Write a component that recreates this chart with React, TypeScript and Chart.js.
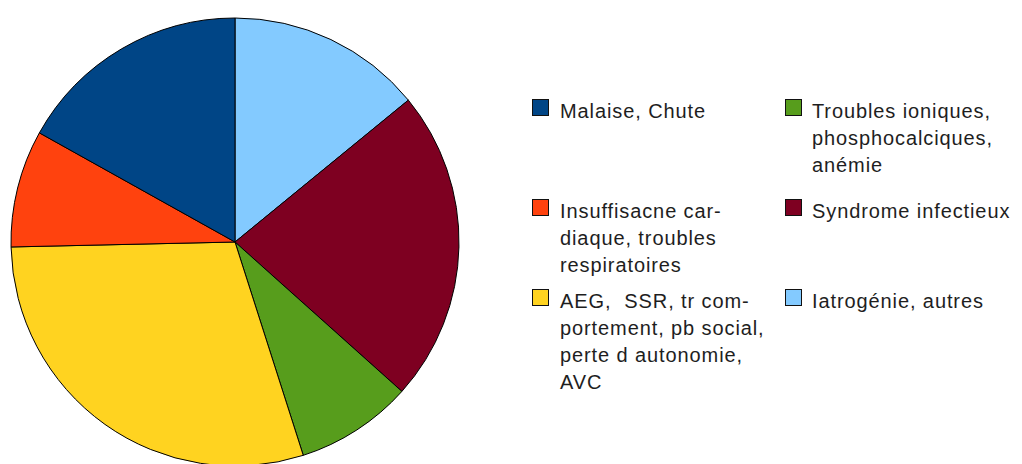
import React, { useEffect, useRef } from "react";
import { Chart, registerables } from "chart.js";

Chart.register(...registerables);

// Categories in legend (column-major) order, which is also the counter-clockwise order of the pie
const categories = [
  "Malaise, Chute",
  "Insuffisacne cardiaque, troubles respiratoires",
  "AEG, SSR, tr comportement, pb social, perte d autonomie, AVC",
  "Troubles ioniques, phosphocalciques, anémie",
  "Syndrome infectieux",
  "Iatrogénie, autres",
];
const values = [12, 6, 21, 6, 16, 10];
const colors = ["#004586", "#ff420e", "#ffd320", "#579d1c", "#7e0021", "#83caff"];
const legendLines = [
  ["Malaise, Chute"],
  ["Insuffisacne car-", "diaque, troubles", "respiratoires"],
  ["AEG,  SSR, tr com-", "portement, pb social,", "perte d autonomie,", "AVC"],
  ["Troubles ioniques,", "phosphocalciques,", "anémie"],
  ["Syndrome infectieux"],
  ["Iatrogénie, autres"],
];

const FONT = '"Liberation Sans", Arial, sans-serif';
const colX = [{ box: 532, text: 560 }, { box: 785, text: 812 }];
const rowBaseline = [118, 218, 308];

export default function App() {
  const ref = useRef<HTMLCanvasElement | null>(null);

  useEffect(() => {
    if (!ref.current) return;
    // Chart.js draws clockwise; the reference is counter-clockwise from 12 o'clock
    const labels = [...categories].reverse();
    const data = [...values].reverse();
    const bg = [...colors].reverse();
    const chart = new Chart(ref.current, {
      type: "pie",
      data: {
        labels,
        datasets: [
          {
            data,
            backgroundColor: bg,
            borderColor: "#000000",
            borderWidth: 1,
          },
        ],
      },
      options: {
        animation: false,
        responsive: false,
        maintainAspectRatio: false,
        radius: 224,
        layout: { padding: 0 },
        plugins: {
          legend: { display: false },
          tooltip: { enabled: false },
          title: { display: false },
        },
      },
    });
    return () => chart.destroy();
  }, []);

  return (
    <div
      style={{
        position: "fixed",
        left: 0,
        top: 0,
        width: 1022,
        height: 464,
        overflow: "hidden",
        background: "#ffffff",
      }}
    >
      <canvas
        ref={ref}
        width={460}
        height={460}
        style={{ position: "absolute", left: 5, top: 12, width: 460, height: 460 }}
      />
      {legendLines.map((lines, i) => {
        const col = Math.floor(i / 3);
        const row = i % 3;
        const base = rowBaseline[row];
        return (
          <React.Fragment key={i}>
            <div
              style={{
                position: "absolute",
                left: colX[col].box,
                top: base - 19,
                width: 17,
                height: 17,
                boxSizing: "border-box",
                border: "1.5px solid #111",
                background: colors[i],
              }}
            />
            <div
              style={{
                position: "absolute",
                left: colX[col].text,
                top: base - 20,
                fontFamily: FONT,
                fontSize: 20,
                lineHeight: "27px",
                letterSpacing: "0.9px",
                color: "#1e1e1e",
                whiteSpace: "pre",
              }}
            >
              {lines.map((l, j) => (
                <div key={j}>{l}</div>
              ))}
            </div>
          </React.Fragment>
        );
      })}
    </div>
  );
}
